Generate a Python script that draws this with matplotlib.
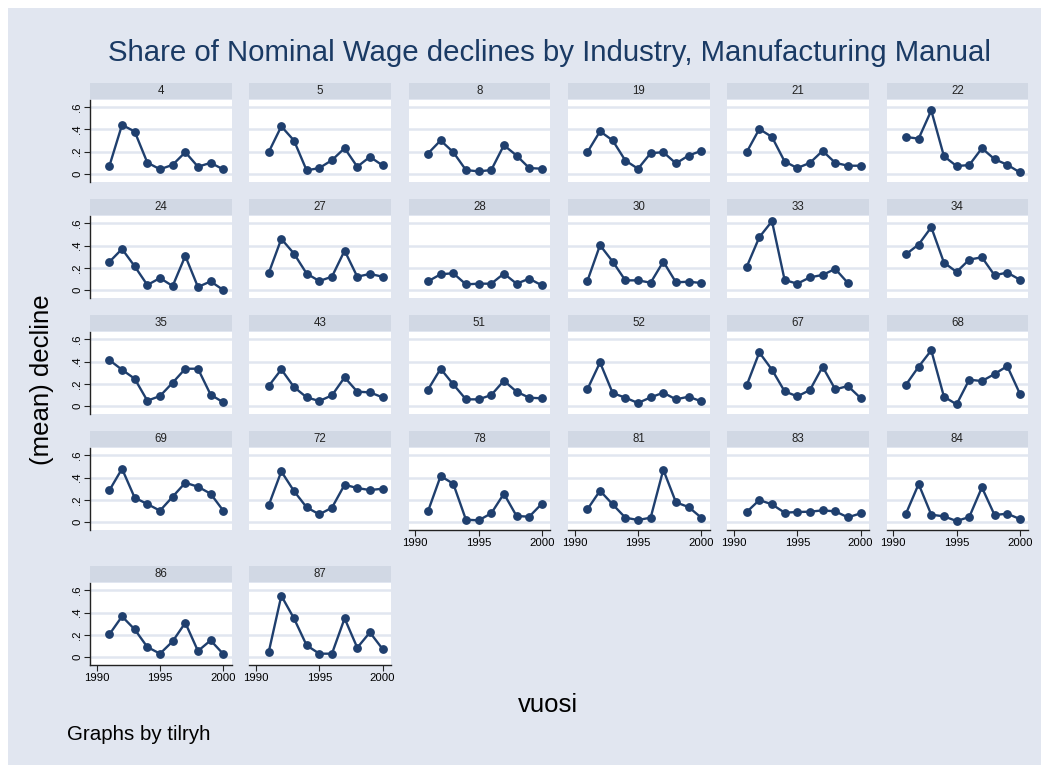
import matplotlib
matplotlib.use("Agg")
import matplotlib.pyplot as plt
from matplotlib.patches import Rectangle

plt.rcParams["font.family"] = ["Liberation Sans", "DejaVu Sans"]

W, H = 1049, 772
BG = "#e1e6f0"
STRIP = "#d1d8e4"
LINE = "#1f3f6e"
TITLE_C = "#1a3a64"

years = list(range(1991, 2001))
industries = ["4", "5", "8", "19", "21", "22",
              "24", "27", "28", "30", "33", "34",
              "35", "43", "51", "52", "67", "68",
              "69", "72", "78", "81", "83", "84",
              "86", "87"]

d4 = [0.069, 0.44, 0.38, 0.10, 0.04, 0.08, 0.194, 0.063, 0.098, 0.039]
d5 = [0.194, 0.427, 0.299, 0.030, 0.051, 0.122, 0.23, 0.063, 0.152, 0.075]
d8 = [0.182, 0.30, 0.194, 0.033, 0.021, 0.033, 0.257, 0.164, 0.051, 0.045]
d19 = [0.194, 0.382, 0.30, 0.119, 0.045, 0.185, 0.194, 0.093, 0.164, 0.206]
d21 = [0.194, 0.403, 0.331, 0.11, 0.051, 0.098, 0.206, 0.098, 0.072, 0.072]
d22 = [0.331, 0.316, 0.57, 0.158, 0.069, 0.078, 0.23, 0.131, 0.081, 0.012]
d24 = [0.253, 0.37, 0.214, 0.045, 0.108, 0.036, 0.307, 0.027, 0.078, 0.0]
d27 = [0.151, 0.461, 0.328, 0.148, 0.081, 0.12, 0.355, 0.12, 0.145, 0.12]
d28 = [0.078, 0.142, 0.151, 0.051, 0.057, 0.057, 0.148, 0.057, 0.102, 0.042]
d30 = [0.081, 0.404, 0.256, 0.087, 0.087, 0.066, 0.256, 0.069, 0.075, 0.063]
d33 = [0.208, 0.476, 0.62, 0.09, 0.057, 0.114, 0.136, 0.19, 0.063]
d34 = [0.322, 0.41, 0.566, 0.247, 0.163, 0.274, 0.295, 0.133, 0.157, 0.093]
d35 = [0.414, 0.327, 0.246, 0.048, 0.09, 0.21, 0.336, 0.336, 0.102, 0.033]
d43 = [0.18, 0.33, 0.171, 0.078, 0.045, 0.096, 0.258, 0.129, 0.123, 0.078]
d51 = [0.147, 0.336, 0.195, 0.06, 0.06, 0.099, 0.228, 0.129, 0.075, 0.069]
d52 = [0.15, 0.393, 0.117, 0.075, 0.027, 0.078, 0.12, 0.06, 0.084, 0.042]
d67 = [0.186, 0.483, 0.327, 0.132, 0.087, 0.144, 0.354, 0.15, 0.18, 0.072]
d68 = [0.192, 0.354, 0.502, 0.084, 0.015, 0.237, 0.225, 0.288, 0.36, 0.111]
d69 = [0.285, 0.48, 0.219, 0.162, 0.102, 0.228, 0.354, 0.318, 0.255, 0.102]
d72 = [0.15, 0.456, 0.279, 0.132, 0.069, 0.129, 0.336, 0.306, 0.288, 0.30]
d78 = [0.096, 0.414, 0.345, 0.021, 0.015, 0.078, 0.255, 0.054, 0.048, 0.165]
d81 = [0.114, 0.282, 0.159, 0.039, 0.018, 0.039, 0.471, 0.177, 0.135, 0.039]
d83 = [0.09, 0.198, 0.159, 0.084, 0.09, 0.093, 0.105, 0.096, 0.042, 0.078]
d84 = [0.075, 0.342, 0.066, 0.051, 0.009, 0.045, 0.312, 0.063, 0.075, 0.027]
d86 = [0.204, 0.366, 0.249, 0.09, 0.03, 0.141, 0.309, 0.054, 0.15, 0.027]
d87 = [0.042, 0.552, 0.348, 0.105, 0.03, 0.03, 0.348, 0.084, 0.222, 0.072]

series = [d4, d5, d8, d19, d21, d22, d24, d27, d28, d30, d33, d34,
          d35, d43, d51, d52, d67, d68, d69, d72, d78, d81, d83, d84,
          d86, d87]

yticks = [0, 0.2, 0.4, 0.6]
ylabels = ["0", ".2", ".4", ".6"]
xticks = [1990, 1995, 2000]

fig = plt.figure(figsize=(W / 100, H / 100), dpi=100, facecolor="white")
fig.add_artist(Rectangle((8 / W, 1 - 765 / H), 1033 / W, 757 / H,
                         transform=fig.transFigure, facecolor=BG,
                         edgecolor="none", zorder=-10))

col_left = [90, 249.3, 408.6, 568, 727.3, 886.6]
row_zero = [173.7, 290, 406, 522, 657]
pw, ph = 141.5, 82

for i, (name, vals) in enumerate(zip(industries, series)):
    r, c = divmod(i, 6)
    top = row_zero[r] - 74
    ax = fig.add_axes([col_left[c] / W, 1 - (top + ph) / H, pw / W, ph / H])
    ax.set_facecolor("white")
    ax.set_xlim(1989.47, 2000.65)
    ax.set_ylim(-0.072, 0.667)
    ax.plot(years[:len(vals)], vals, color=LINE, lw=1.7, marker="o",
            ms=5.3, zorder=3)
    ax.set_yticks(yticks)
    ax.set_xticks(xticks)
    ax.grid(axis="y", color=BG, lw=1.8)
    ax.grid(axis="x", visible=False)
    for s in ax.spines.values():
        s.set_visible(False)

    # strip header
    ax.add_patch(Rectangle((0, 1.012), 1, 0.195, transform=ax.transAxes,
                           facecolor=STRIP, edgecolor="none", clip_on=False))
    ax.text(0.5, 1.012 + 0.0975, name, transform=ax.transAxes, ha="center",
            va="center", fontsize=8.3, color="#222222")

    show_y = c == 0
    # x axis shown when no panel sits below
    show_x = (i + 6) >= len(industries)
    ax.tick_params(axis="y", left=show_y, labelleft=show_y, length=4,
                   width=0.8, color="#222222", pad=1.5, labelsize=8.2)
    ax.tick_params(axis="x", bottom=show_x, labelbottom=show_x, length=4,
                   width=0.8, color="#222222", pad=2, labelsize=8.2)
    if show_y:
        ax.spines["left"].set_visible(True)
        ax.spines["left"].set_color("#222222")
        ax.spines["left"].set_linewidth(1)
        ax.set_yticklabels(ylabels, rotation=90, va="center")
    if show_x:
        ax.spines["bottom"].set_visible(True)
        ax.spines["bottom"].set_color("#222222")
        ax.spines["bottom"].set_linewidth(1)

fig.text(550 / W, 1 - 53 / H,
         "Share of Nominal Wage declines by Industry, Manufacturing Manual",
         ha="center", va="center", fontsize=21.2, color=TITLE_C)
fig.text(42 / W, 1 - 380 / H, "(mean) decline", rotation=90, ha="center",
         va="center", fontsize=18.5, color="black")
fig.text(548 / W, 1 - 705 / H, "vuosi", ha="center", va="center",
         fontsize=18.5, color="black")
fig.text(67 / W, 1 - 734 / H, "Graphs by tilryh", ha="left", va="center",
         fontsize=14.8, color="black")

fig.savefig("out.png", dpi=100, facecolor="white")
